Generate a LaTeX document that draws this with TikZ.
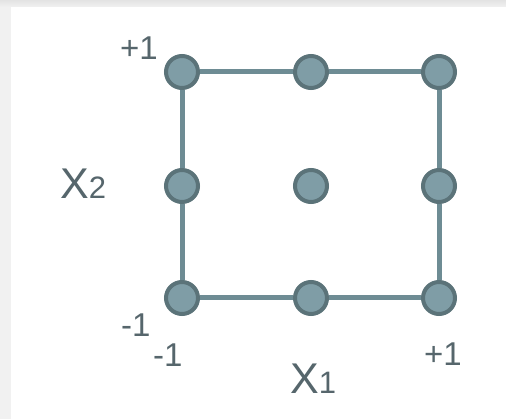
\documentclass[tikz,border=0pt]{standalone}
\usepackage{fontspec}
\setmainfont{Liberation Sans}
\definecolor{framegray}{HTML}{F1F1F1}
\definecolor{dotfill}{HTML}{7F9DA6}
\definecolor{dotborder}{HTML}{5B7379}
\definecolor{linecol}{HTML}{6E8C94}
\definecolor{textcol}{HTML}{56666C}
\begin{document}
\begin{tikzpicture}[x=1pt,y=-1pt,
  dot/.style={circle, draw=dotborder, fill=dotfill, line width=4pt, minimum size=32pt, inner sep=0pt},
  conn/.style={draw=linecol, line width=5pt},
  num/.style={text=textcol, inner sep=0pt, anchor=base west, font=\fontsize{33}{33}\selectfont},
  axis/.style={text=textcol, inner sep=0pt, anchor=base west, font=\fontsize{43}{43}\selectfont}]
\useasboundingbox (0,0) rectangle (506,419);
\fill[framegray] (0,0) rectangle (506,419);
\shade[top color=framegray!90!black!60!framegray, bottom color=framegray] (0,0) rectangle (506,7);
\fill[white] (11,7) rectangle (506,419);
% dots
\node[dot] (a1) at (182,72) {};
\node[dot] (a2) at (311,72) {};
\node[dot] (a3) at (439,72) {};
\node[dot] (b1) at (182,186) {};
\node[dot] (b2) at (311,186) {};
\node[dot] (b3) at (439,186) {};
\node[dot] (c1) at (182,298) {};
\node[dot] (c2) at (311,298) {};
\node[dot] (c3) at (439,298) {};
% connectors
\draw[conn] (a1) -- (a2);
\draw[conn] (a2) -- (a3);
\draw[conn] (c1) -- (c2);
\draw[conn] (c2) -- (c3);
\draw[conn] (a1) -- (b1);
\draw[conn] (b1) -- (c1);
\draw[conn] (a3) -- (b3);
\draw[conn] (b3) -- (c3);
% labels
\node[num] (ptop) at (120,60) {+1};
\node[num] (mleft) at (121,337) {-1};
\node[num] (mbot) at (153,367) {-1};
\node[num] (pright) at (424,366) {+1};
\node[axis] (x2) at (60,199) {X\fontsize{31}{31}\selectfont 2};
\node[axis] (x1) at (290,394) {X\fontsize{31}{31}\selectfont 1};
\end{tikzpicture}
\end{document}
